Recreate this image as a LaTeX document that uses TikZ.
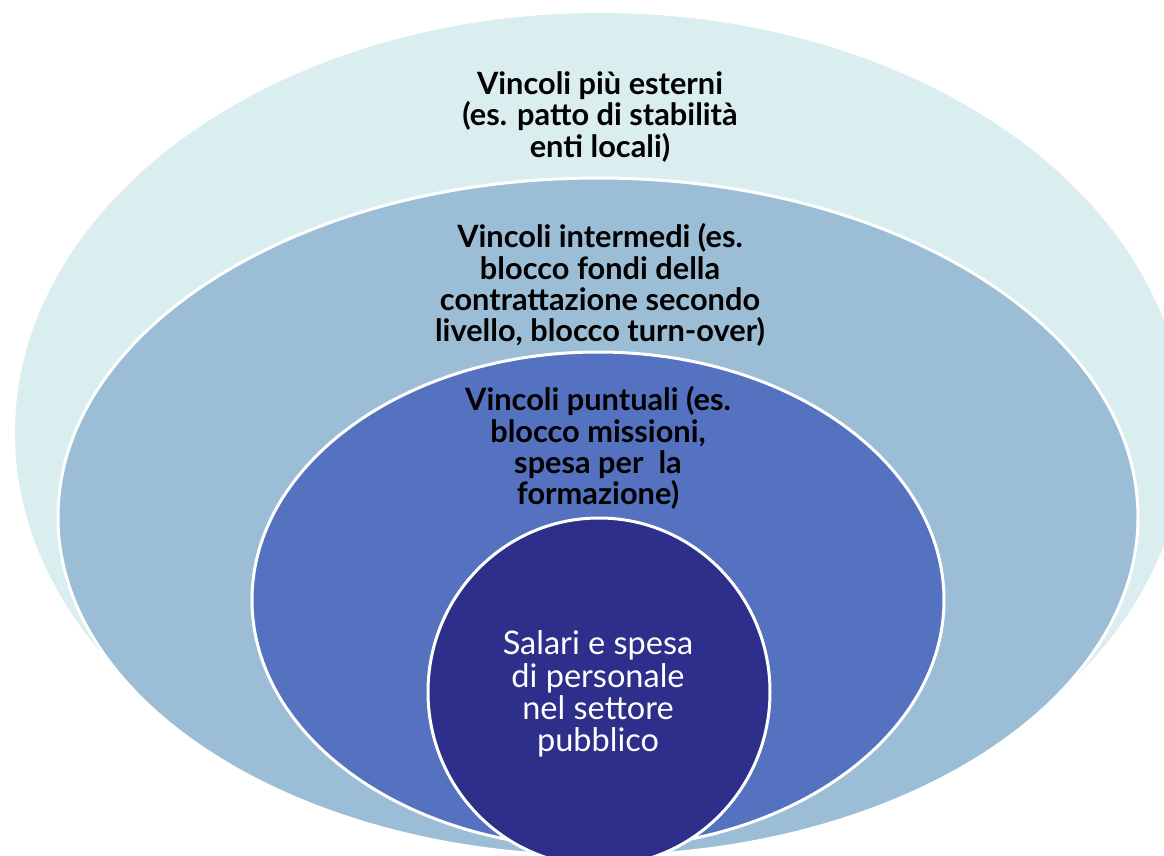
\documentclass[tikz,border=0pt]{standalone}
\usepackage{fontspec}
\setmainfont{Lato}
\usepackage{xcolor}
\usepackage{tikz}

\definecolor{esterno}{HTML}{DAEDEF}
\definecolor{intermedio}{HTML}{9BBDD6}
\definecolor{puntuale}{HTML}{5472C0}
\definecolor{nucleo}{HTML}{2E2F8A}

\tikzset{
  anello/.style={draw=white, line width=0.06cm},
  etichetta/.style={align=center, text=black, font=\bfseries\fontsize{17.5}{17.8}\selectfont},
  centro/.style={align=center, text=white, font=\fontsize{18.5}{18.3}\selectfont}
}

\begin{document}
\begin{tikzpicture}[x=0.02cm,y=-0.02cm]
%\draw[step=50,gray,very thin] (0,0) grid (1164,856);
\useasboundingbox (0,0) rectangle (1164,856);
\clip (0,0) rectangle (1164,856);
\fill[esterno] (600,433) ellipse (585 and 420);
\filldraw[anello,fill=intermedio] (598,517) ellipse (540 and 339);
\filldraw[anello,fill=puntuale] (598,600) ellipse (346 and 248);
\filldraw[anello,fill=nucleo] (599,692) ellipse (171 and 174);
\node[etichetta] (esterni) at (600,117) {Vincoli più esterni\\(es. patto di stabilità\\enti locali)};
\node[etichetta] (intermedi) at (600,285) {Vincoli intermedi (es.\\blocco fondi della\\contrattazione secondo\\livello, blocco turn-over)};
\node[etichetta] (puntuali) at (598,448) {Vincoli puntuali (es.\\blocco missioni,\\spesa per\ \ la\\formazione)};
\node[centro] (salari) at (598,694) {Salari e spesa\\di personale\\nel settore\\pubblico};
\end{tikzpicture}
\end{document}
